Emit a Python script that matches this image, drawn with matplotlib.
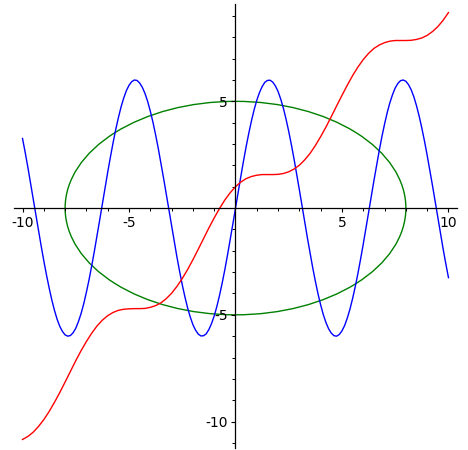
import matplotlib
matplotlib.use("Agg")
import matplotlib.pyplot as plt
from matplotlib.patches import Ellipse
from matplotlib.ticker import FixedLocator, MultipleLocator

# sample positions along x (step 0.25)
x_samples = [
    -10.0, -9.75, -9.5, -9.25, -9.0, -8.75, -8.5, -8.25, -8.0, -7.75,
    -7.5, -7.25, -7.0, -6.75, -6.5, -6.25, -6.0, -5.75, -5.5, -5.25,
    -5.0, -4.75, -4.5, -4.25, -4.0, -3.75, -3.5, -3.25, -3.0, -2.75,
    -2.5, -2.25, -2.0, -1.75, -1.5, -1.25, -1.0, -0.75, -0.5, -0.25,
    0.0, 0.25, 0.5, 0.75, 1.0, 1.25, 1.5, 1.75, 2.0, 2.25,
    2.5, 2.75, 3.0, 3.25, 3.5, 3.75, 4.0, 4.25, 4.5, 4.75,
    5.0, 5.25, 5.5, 5.75, 6.0, 6.25, 6.5, 6.75, 7.0, 7.25,
    7.5, 7.75, 8.0, 8.25, 8.5, 8.75, 9.0, 9.25, 9.5, 9.75, 10.0,
]
# extra in-between positions for the blue wave
x_mid = [
    -9.875, -9.625, -9.375, -9.125, -8.875, -8.625, -8.375, -8.125, -7.875, -7.625,
    -7.375, -7.125, -6.875, -6.625, -6.375, -6.125, -5.875, -5.625, -5.375, -5.125,
    -4.875, -4.625, -4.375, -4.125, -3.875, -3.625, -3.375, -3.125, -2.875, -2.625,
    -2.375, -2.125, -1.875, -1.625, -1.375, -1.125, -0.875, -0.625, -0.375, -0.125,
    0.125, 0.375, 0.625, 0.875, 1.125, 1.375, 1.625, 1.875, 2.125, 2.375,
    2.625, 2.875, 3.125, 3.375, 3.625, 3.875, 4.125, 4.375, 4.625, 4.875,
    5.125, 5.375, 5.625, 5.875, 6.125, 6.375, 6.625, 6.875, 7.125, 7.375,
    7.625, 7.875, 8.125, 8.375, 8.625, 8.875, 9.125, 9.375, 9.625, 9.875,
]

# blue wave
blue_y = [
    3.26, 1.92, 0.45, -1.05, -2.47, -3.74, -4.79, -5.54, -5.94, -5.97,
    -5.63, -4.94, -3.94, -2.70, -1.29, 0.20, 1.68, 3.05, 4.23, 5.15,
    5.75, 6.00, 5.86, 5.37, 4.54, 3.43, 2.10, 0.65, -0.85, -2.29,
    -3.59, -4.67, -5.46, -5.90, -5.98, -5.69, -5.05, -4.09, -2.88, -1.48,
    0.00, 1.48, 2.88, 4.09, 5.05, 5.69, 5.98, 5.90, 5.46, 4.67,
    3.59, 2.29, 0.85, -0.65, -2.10, -3.43, -4.54, -5.37, -5.86, -6.00,
    -5.75, -5.15, -4.23, -3.05, -1.68, -0.20, 1.29, 2.70, 3.94, 4.94,
    5.63, 5.97, 5.94, 5.54, 4.79, 3.74, 2.47, 1.05, -0.45, -1.92, -3.26,
]
blue_y_mid = [
    2.61, 1.19, -0.30, -1.77, -3.13, -4.30, -5.21, -5.78, -6.00, -5.84,
    -5.32, -4.48, -3.35, -2.01, -0.55, 0.95, 2.38, 3.67, 4.73, 5.50,
    5.92, 5.98, 5.66, 5.00, 4.02, 2.79, 1.39, -0.10, -1.58, -2.96,
    -4.16, -5.10, -5.72, -5.99, -5.89, -5.41, -4.61, -3.51, -2.20, -0.75,
    0.75, 2.20, 3.51, 4.61, 5.41, 5.89, 5.99, 5.72, 5.10, 4.16,
    2.96, 1.58, 0.10, -1.39, -2.79, -4.02, -5.00, -5.66, -5.98, -5.92,
    -5.50, -4.73, -3.67, -2.38, -0.95, 0.55, 2.01, 3.35, 4.48, 5.32,
    5.84, 6.00, 5.78, 5.21, 4.30, 3.13, 1.77, 0.30, -1.19, -2.61,
]

# red staircase-like curve
red_y = [
    -10.84, -10.70, -10.50, -10.23, -9.91, -9.53, -9.10, -8.64, -8.15, -7.65,
    -7.15, -6.68, -6.25, -5.86, -5.52, -5.25, -5.04, -4.89, -4.79, -4.74,
    -4.72, -4.71, -4.71, -4.70, -4.65, -4.57, -4.44, -4.24, -3.99, -3.67,
    -3.30, -2.88, -2.42, -1.93, -1.43, -0.93, -0.46, -0.02, 0.38, 0.72,
    1.00, 1.22, 1.38, 1.48, 1.54, 1.57, 1.57, 1.57, 1.58, 1.62,
    1.70, 1.83, 2.01, 2.26, 2.56, 2.93, 3.35, 3.80, 4.29, 4.79,
    5.28, 5.76, 6.21, 6.61, 6.96, 7.25, 7.48, 7.64, 7.75, 7.82,
    7.85, 7.85, 7.85, 7.86, 7.90, 7.97, 8.09, 8.27, 8.50, 8.80, 9.16,
]

# green ellipse
ellipse_center = (0.0, 0.0)
ellipse_rx = 8.0
ellipse_ry = 5.0

x_major = [-10, -5, 5, 10]
y_major = [-10, -5, 5]

blue_pts = sorted(zip(x_samples + x_mid, blue_y + blue_y_mid))
blue_x = [p[0] for p in blue_pts]
blue_v = [p[1] for p in blue_pts]

fig = plt.figure(figsize=(4.68, 4.5), dpi=100)
ax = fig.add_axes([0.0299, 0.0044, 0.9466, 0.9867])

ax.plot(blue_x, blue_v, color="#0000ff", lw=1.0)
ax.plot(x_samples, red_y, color="#ff0000", lw=1.0)
ax.add_patch(Ellipse(ellipse_center, 2 * ellipse_rx, 2 * ellipse_ry,
                     fill=False, edgecolor="#008000", lw=1.0))

ax.set_xlim(-10.4, 10.4)
ax.set_ylim(-11.24, 9.56)

for side in ["top", "right"]:
    ax.spines[side].set_visible(False)
ax.spines["left"].set_position(("data", 0))
ax.spines["bottom"].set_position(("data", 0))
for side in ["left", "bottom"]:
    ax.spines[side].set_linewidth(0.9)

ax.xaxis.set_major_locator(FixedLocator(x_major))
ax.yaxis.set_major_locator(FixedLocator(y_major))
ax.xaxis.set_minor_locator(MultipleLocator(1))
ax.yaxis.set_minor_locator(MultipleLocator(1))
ax.set_xticklabels([str(v) for v in x_major])
ax.set_yticklabels([str(v) for v in y_major])
ax.tick_params(which="major", length=3.2, width=0.8, labelsize=10, pad=2.5)
ax.tick_params(which="minor", length=2.2, width=0.7)
ax.patch.set_alpha(0)

fig.savefig("out.png", dpi=100)
